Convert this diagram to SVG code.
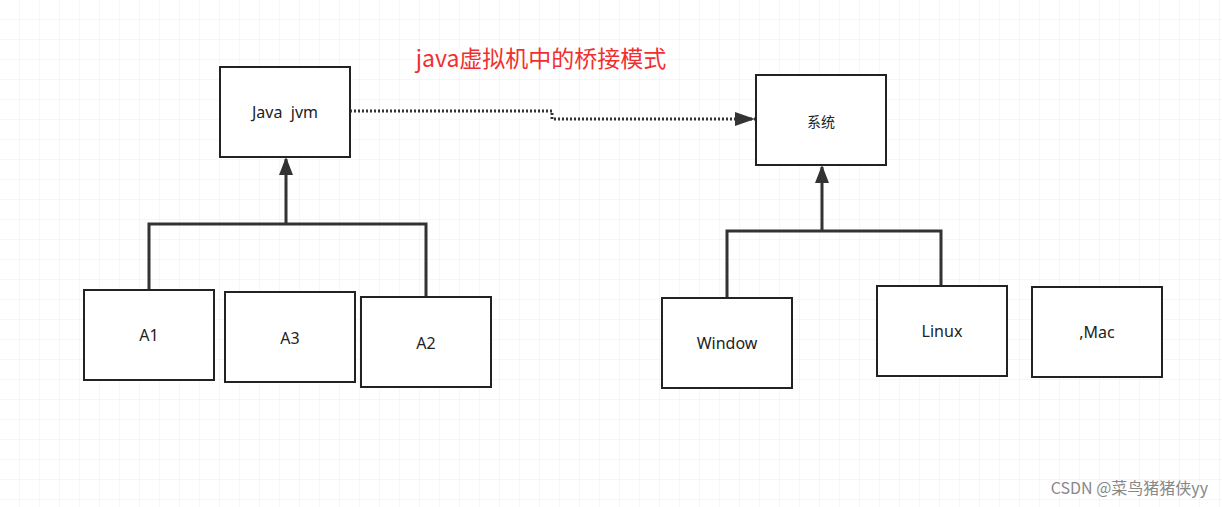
<svg xmlns="http://www.w3.org/2000/svg" width="1222" height="507" viewBox="0 0 1222 507">
<style>
.box{fill:#fff;stroke:#222;stroke-width:2}
.t{font-family:"Noto Sans","Liberation Sans",sans-serif;font-size:16px;fill:#222;text-anchor:middle;dominant-baseline:central}
.ln{fill:none;stroke:#333;stroke-width:3}
</style>
<defs>
<pattern id="g" width="20" height="20" patternUnits="userSpaceOnUse"><path d="M20 0V20H0" fill="none" stroke="#eee" stroke-width="1"/></pattern>
<marker id="a" markerWidth="20" markerHeight="14" refX="16" refY="7" orient="auto" markerUnits="userSpaceOnUse"><path d="M0 0L18 7L0 14Z" fill="#333"/></marker>
<marker id="b" markerWidth="20" markerHeight="14" refX="20" refY="7" orient="auto" markerUnits="userSpaceOnUse"><path d="M0 0L20 7L0 14Z" fill="#333"/></marker>
</defs>
<rect width="1222" height="507" fill="#fff"/>
<rect width="1222" height="507" fill="url(#g)"/>
<text x="541" y="57" font-family="Noto Sans CJK SC,sans-serif" font-size="23" fill="#f03030" text-anchor="middle" dominant-baseline="central">java虚拟机中的桥接模式</text>
<g id="connectors">
<path class="ln" d="M149 290V224H426V297M286 224V159" marker-end="url(#a)"/>
<path class="ln" d="M727 298V231H941V286M822 231V167" marker-end="url(#a)"/>
<path d="M350 111H552V119H755" fill="none" stroke="#333" stroke-width="3" stroke-dasharray="2 2" marker-end="url(#b)"/>
</g>
<g id="jvm"><rect class="box" x="220" y="67" width="130" height="90"/><text class="t" x="285" y="112" font-size="15" xml:space="preserve">Java  jvm</text></g>
<g id="sys"><rect class="box" x="756" y="75" width="130" height="90"/><text class="t" x="821" y="121" style="font-family:'Noto Sans CJK SC',sans-serif;font-size:14px">系统</text></g>
<g id="A1"><rect class="box" x="84" y="290" width="130" height="90"/><text class="t" x="149" y="335">A1</text></g>
<g id="A3"><rect class="box" x="225" y="292" width="130" height="90"/><text class="t" x="290" y="338">A3</text></g>
<g id="A2"><rect class="box" x="361" y="297" width="130" height="90"/><text class="t" x="426" y="343">A2</text></g>
<g id="win"><rect class="box" x="662" y="298" width="130" height="90"/><text class="t" x="727" y="343">Window</text></g>
<g id="linux"><rect class="box" x="877" y="286" width="130" height="90"/><text class="t" x="942" y="331">Linux</text></g>
<g id="mac"><rect class="box" x="1032" y="287" width="130" height="90"/><text class="t" x="1097" y="332">,Mac</text></g>
<text x="1208" y="494" font-family="Noto Sans CJK SC,sans-serif" font-size="16" fill="#888" text-anchor="end">CSDN @菜鸟猪猪侠yy</text>
</svg>
